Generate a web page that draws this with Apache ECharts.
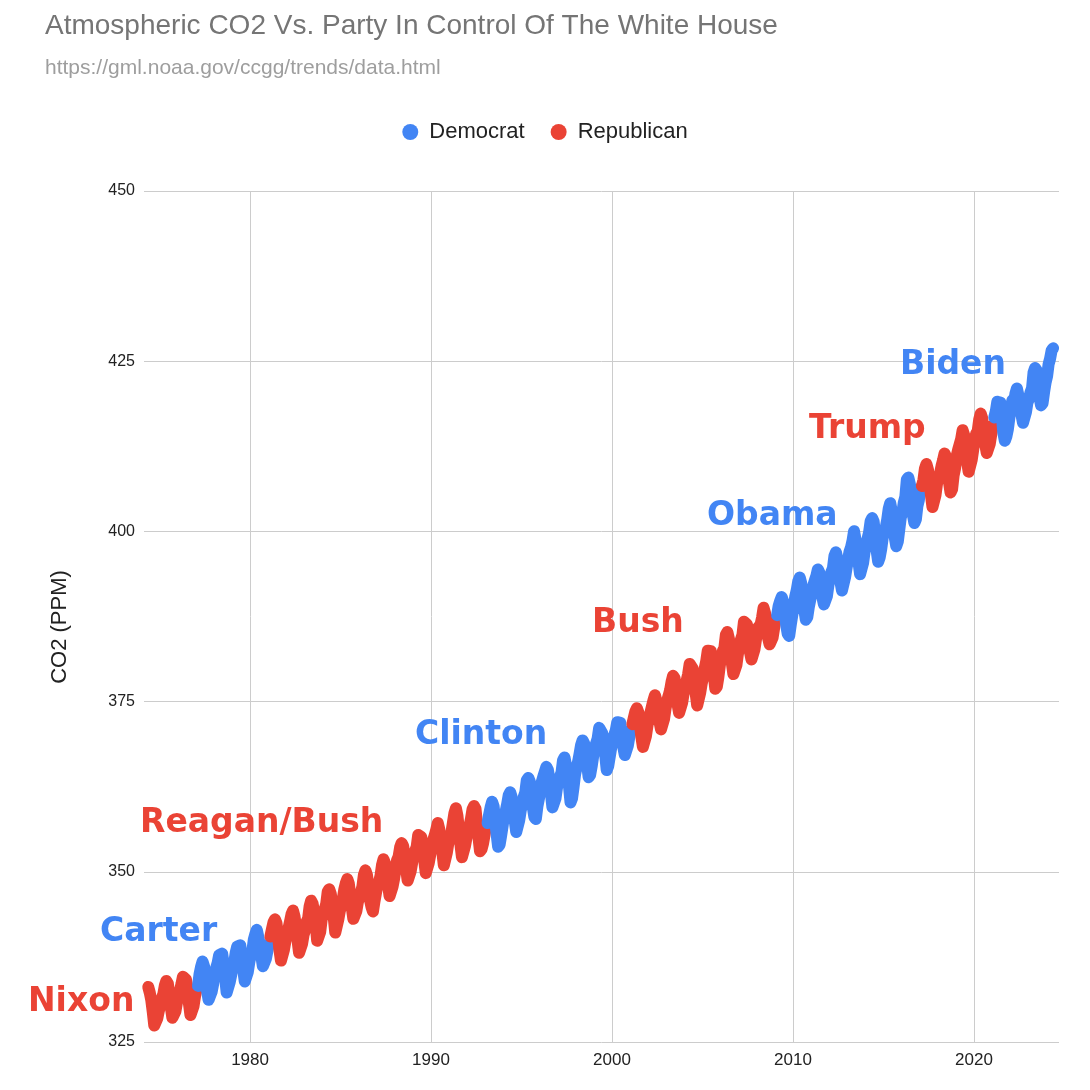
<!DOCTYPE html>
<html>
<head>
<meta charset="utf-8">
<script src="https://cdn.jsdelivr.net/npm/echarts@6/dist/echarts.min.js"></script>
<style>
  html, body { margin: 0; padding: 0; background: #fff; }
  #grafico { width: 1090px; height: 1090px; }
</style>
</head>
<body>
<div id="grafico"></div>
<script>
// monthly mean CO2 (ppm) per presidency, first month given by the start [year, month]
var nixonFord = [ // May 1974 - Jan 1977
    333.09, 332.25, 331.18, 329.40, 327.43, 327.37, 328.46, 329.57,
    330.40, 331.40, 332.04, 333.31, 333.96, 333.59, 331.91, 330.06, 328.56, 328.34, 329.49, 330.76,
    331.75, 332.56, 333.50, 334.58, 334.57, 334.19, 332.95, 330.64, 328.95, 328.77, 330.23, 331.69,
    332.70
];
var carter = [ // Feb 1977 - Jan 1981
    333.24, 334.96, 336.04, 336.82, 336.13, 334.73, 332.52, 331.19, 331.19, 332.35, 333.47,
    335.11, 335.26, 336.60, 337.77, 338.00, 337.99, 336.48, 334.37, 332.27, 332.41, 333.76, 334.83,
    336.21, 336.64, 338.12, 339.02, 339.02, 339.20, 337.58, 335.55, 333.89, 334.14, 335.26, 336.71,
    337.81, 338.29, 340.04, 340.86, 341.47, 341.26, 339.29, 337.60, 336.12, 336.08, 337.22, 338.34,
    339.36
];
var reaganBush = [ // Feb 1981 - Jan 1993
    340.51, 341.57, 342.56, 343.01, 342.47, 340.71, 338.52, 336.96, 337.13, 338.58, 339.89,
    340.93, 341.69, 342.69, 343.79, 344.30, 343.43, 341.88, 339.89, 338.10, 338.04, 339.43, 340.76,
    341.47, 342.67, 343.15, 344.94, 345.76, 345.32, 343.98, 342.38, 339.87, 339.99, 341.15, 342.99,
    343.70, 344.51, 345.28, 347.08, 347.43, 346.79, 345.40, 343.28, 341.07, 341.35, 342.98, 344.22,
    344.97, 346.00, 347.43, 348.35, 348.93, 348.25, 346.56, 344.69, 343.09, 342.80, 344.24, 345.56,
    346.30, 346.95, 347.85, 349.55, 350.21, 349.55, 347.94, 345.90, 344.85, 344.17, 345.66, 346.90,
    348.02, 348.47, 349.42, 350.99, 351.84, 351.25, 349.52, 348.10, 346.44, 346.36, 347.81, 348.96,
    350.43, 351.72, 352.22, 353.59, 354.22, 353.79, 352.39, 350.44, 348.72, 348.88, 350.07, 351.34,
    352.76, 353.07, 353.68, 355.42, 355.67, 355.12, 353.90, 351.67, 349.80, 349.99, 351.30, 352.52,
    353.66, 354.70, 355.39, 356.20, 357.16, 356.22, 354.82, 352.91, 350.96, 351.18, 352.83, 354.21,
    354.72, 355.75, 357.16, 358.60, 359.34, 358.24, 356.17, 354.02, 352.15, 352.21, 353.75, 354.99,
    355.98, 356.72, 357.81, 359.15, 359.66, 359.25, 357.02, 355.00, 353.01, 353.31, 354.16, 355.40,
    356.70
];
var clinton = [ // Feb 1993 - Jan 2001
    357.17, 358.38, 359.46, 360.28, 359.60, 357.57, 355.52, 353.69, 353.99, 355.34, 356.80,
    358.37, 358.91, 359.97, 361.26, 361.69, 360.94, 359.55, 357.49, 355.84, 356.00, 357.58, 359.04,
    359.96, 361.00, 361.64, 363.45, 363.79, 363.26, 361.90, 359.46, 358.06, 357.75, 359.56, 360.70,
    362.05, 363.25, 364.03, 364.72, 365.41, 364.97, 363.65, 361.49, 359.46, 359.60, 360.76, 362.33,
    363.18, 363.99, 364.56, 366.36, 366.80, 365.63, 364.47, 362.50, 360.19, 360.78, 362.43, 364.28,
    365.33, 366.15, 367.31, 368.61, 369.30, 368.88, 367.64, 365.78, 363.90, 364.23, 365.46, 366.97,
    368.15, 368.87, 369.59, 371.14, 371.00, 370.35, 369.27, 367.15, 364.95, 365.52, 366.88, 368.26,
    369.45, 369.71, 370.75, 371.98, 371.75, 371.87, 370.02, 368.27, 367.15, 367.18, 368.53, 369.83,
    370.76
];
var bush = [ // Feb 2001 - Jan 2009
    371.69, 372.63, 373.55, 374.03, 373.40, 371.68, 369.78, 368.34, 368.61, 369.94, 371.42,
    372.70, 373.37, 374.30, 375.19, 375.93, 375.69, 374.16, 372.03, 370.92, 370.73, 372.43, 373.98,
    375.07, 375.82, 376.64, 377.92, 378.78, 378.46, 376.88, 374.57, 373.34, 373.31, 374.84, 376.17,
    377.17, 378.05, 379.06, 380.54, 380.80, 379.87, 377.65, 376.17, 374.43, 374.63, 376.33, 377.68,
    378.63, 379.91, 380.95, 382.48, 382.64, 382.40, 380.93, 378.93, 376.89, 377.19, 378.54, 380.31,
    381.58, 382.40, 382.86, 384.80, 385.22, 384.24, 382.65, 380.60, 379.04, 379.33, 380.35, 382.02,
    383.10, 384.12, 384.81, 386.73, 386.78, 386.33, 384.73, 382.24, 381.20, 381.37, 382.70, 384.19,
    385.78, 386.06, 386.28, 387.33, 388.78, 387.99, 386.61, 384.32, 383.41, 383.21, 384.41, 385.79,
    387.17
];
var obama = [ // Feb 2009 - Jan 2017
    387.70, 389.04, 389.76, 390.36, 389.70, 388.24, 386.29, 384.95, 384.64, 386.23, 387.63,
    388.91, 390.41, 391.37, 392.67, 393.21, 392.38, 390.41, 388.54, 387.03, 387.43, 388.87, 389.99,
    391.50, 392.05, 392.80, 393.44, 394.41, 393.95, 392.72, 390.33, 389.28, 389.19, 390.48, 392.06,
    393.31, 394.04, 394.59, 396.38, 396.93, 395.91, 394.56, 392.59, 391.32, 391.27, 393.20, 394.57,
    395.78, 397.03, 397.66, 398.64, 400.02, 398.81, 397.51, 395.39, 393.72, 393.90, 395.36, 397.03,
    398.04, 398.27, 399.91, 401.51, 401.96, 401.43, 399.27, 397.18, 395.54, 396.16, 397.40, 399.08,
    400.18, 400.55, 401.74, 403.35, 404.15, 402.97, 401.46, 399.11, 397.82, 398.49, 400.27, 402.06,
    402.73, 404.25, 405.06, 407.60, 407.90, 406.99, 404.59, 402.45, 401.23, 401.79, 403.72, 404.64,
    406.36
];
var trump = [ // Feb 2017 - Jan 2021
    406.66, 407.53, 409.22, 409.89, 409.08, 407.33, 405.32, 403.57, 403.82, 405.31, 407.00,
    408.15, 408.52, 409.59, 410.45, 411.44, 410.99, 408.90, 407.16, 405.71, 406.19, 408.21, 409.27,
    411.03, 411.96, 412.18, 413.54, 414.86, 414.16, 411.97, 410.18, 408.76, 408.75, 410.48, 411.98,
    413.61, 414.34, 414.74, 416.45, 417.31, 416.62, 414.62, 412.78, 411.52, 411.51, 412.87, 414.25,
    415.52
];
var biden = [ // Feb 2021 - May 2024
    416.75, 417.64, 419.05, 419.13, 418.94, 416.96, 414.47, 413.30, 413.93, 415.01, 416.71,
    418.19, 419.28, 418.81, 420.23, 420.99, 420.99, 418.90, 417.19, 415.95, 415.78, 417.51, 418.95,
    419.47, 420.41, 420.99, 423.31, 424.00, 423.68, 421.83, 419.68, 418.51, 418.82, 420.46, 421.86,
    422.80, 424.55, 425.38, 426.57, 426.90
];

var mandatos = [
    { nome: 'Nixon', partido: 'Republican', inicio: [1974, 5], valores: nixonFord },
    { nome: 'Carter', partido: 'Democrat', inicio: [1977, 2], valores: carter },
    { nome: 'Reagan/Bush', partido: 'Republican', inicio: [1981, 2], valores: reaganBush },
    { nome: 'Clinton', partido: 'Democrat', inicio: [1993, 2], valores: clinton },
    { nome: 'Bush', partido: 'Republican', inicio: [2001, 2], valores: bush },
    { nome: 'Obama', partido: 'Democrat', inicio: [2009, 2], valores: obama },
    { nome: 'Trump', partido: 'Republican', inicio: [2017, 2], valores: trump },
    { nome: 'Biden', partido: 'Democrat', inicio: [2021, 2], valores: biden }
];

var anos_eixo = [1980, 1990, 2000, 2010, 2020];
var cores = { Democrat: '#4285F4', Republican: '#EA4335' };

// text labels (pixel position of each president's name)
var rotulos = [
    { texto: 'Nixon', partido: 'Republican', x: 28, y: 1000 },
    { texto: 'Carter', partido: 'Democrat', x: 100, y: 930 },
    { texto: 'Reagan/Bush', partido: 'Republican', x: 140, y: 821 },
    { texto: 'Clinton', partido: 'Democrat', x: 415, y: 733 },
    { texto: 'Bush', partido: 'Republican', x: 592, y: 621 },
    { texto: 'Obama', partido: 'Democrat', x: 707, y: 514 },
    { texto: 'Trump', partido: 'Republican', x: 809, y: 427 },
    { texto: 'Biden', partido: 'Democrat', x: 900, y: 363 }
];

var series_grafico = [];
mandatos.forEach(function (m) {
    var pontos = [];
    m.valores.forEach(function (v, i) {
        var mes = m.inicio[1] - 1 + i;
        var x = m.inicio[0] + (mes + 0.5) / 12;
        pontos.push([x, v]);
    });
    series_grafico.push({
        name: m.partido,
        type: 'line',
        showSymbol: false,
        symbol: 'circle',
        color: cores[m.partido],
        lineStyle: { width: 12, cap: 'round', join: 'round', color: cores[m.partido] },
        data: pontos
    });
});

var graficos = rotulos.map(function (r) {
    return {
        type: 'text',
        left: r.x,
        top: r.y - 14,
        z: 100,
        style: {
            text: r.texto,
            fill: cores[r.partido],
            font: 'bold 33px "DejaVu Sans"'
        }
    };
});

// y axis title, placed like the original (slightly below the middle of the plot)
graficos.push({
    type: 'text',
    x: 60,
    y: 627,
    rotation: Math.PI / 2,
    z: 100,
    style: {
        text: 'CO2 (PPM)',
        fill: '#222',
        font: '22px "Liberation Sans"',
        align: 'center',
        verticalAlign: 'middle'
    }
});

var myChart = echarts.init(document.getElementById('grafico'));

var option = {
    animation: false,
    backgroundColor: '#fff',
    title: {
        text: 'Atmospheric CO2 Vs. Party In Control Of The White House',
        subtext: 'https://gml.noaa.gov/ccgg/trends/data.html',
        left: 40,
        top: 7,
        itemGap: 18,
        textStyle: { fontFamily: 'Liberation Sans', fontSize: 28, fontWeight: 'normal', color: '#757575' },
        subtextStyle: { fontFamily: 'Liberation Sans', fontSize: 21, color: '#9e9e9e' }
    },
    legend: {
        data: ['Democrat', 'Republican'],
        top: 116,
        left: 'center',
        icon: 'circle',
        itemWidth: 28,
        itemHeight: 16,
        itemGap: 26,
        textStyle: { fontFamily: 'Liberation Sans', fontSize: 22, color: '#222' }
    },
    grid: { left: 144, right: 31, top: 191, bottom: 48 },
    xAxis: {
        type: 'value',
        min: 1974.14,
        max: 2024.7,
        axisLine: { show: false },
        axisTick: { show: false, customValues: anos_eixo },
        axisLabel: {
            customValues: anos_eixo,
            formatter: function (v) { return String(v); },
            color: '#222', fontSize: 17, fontFamily: 'Liberation Sans', margin: 10
        },
        splitLine: { show: true, lineStyle: { color: '#cccccc', width: 1 } }
    },
    yAxis: {
        type: 'value',
        min: 325,
        max: 450,
        interval: 25,
        axisLine: { show: false },
        axisTick: { show: false },
        axisLabel: { color: '#222', fontSize: 16, fontFamily: 'Liberation Sans', margin: 9 },
        splitLine: { show: true, lineStyle: { color: '#cccccc', width: 1 } }
    },
    graphic: graficos,
    series: series_grafico
};

myChart.setOption(option);
</script>
</body>
</html>
